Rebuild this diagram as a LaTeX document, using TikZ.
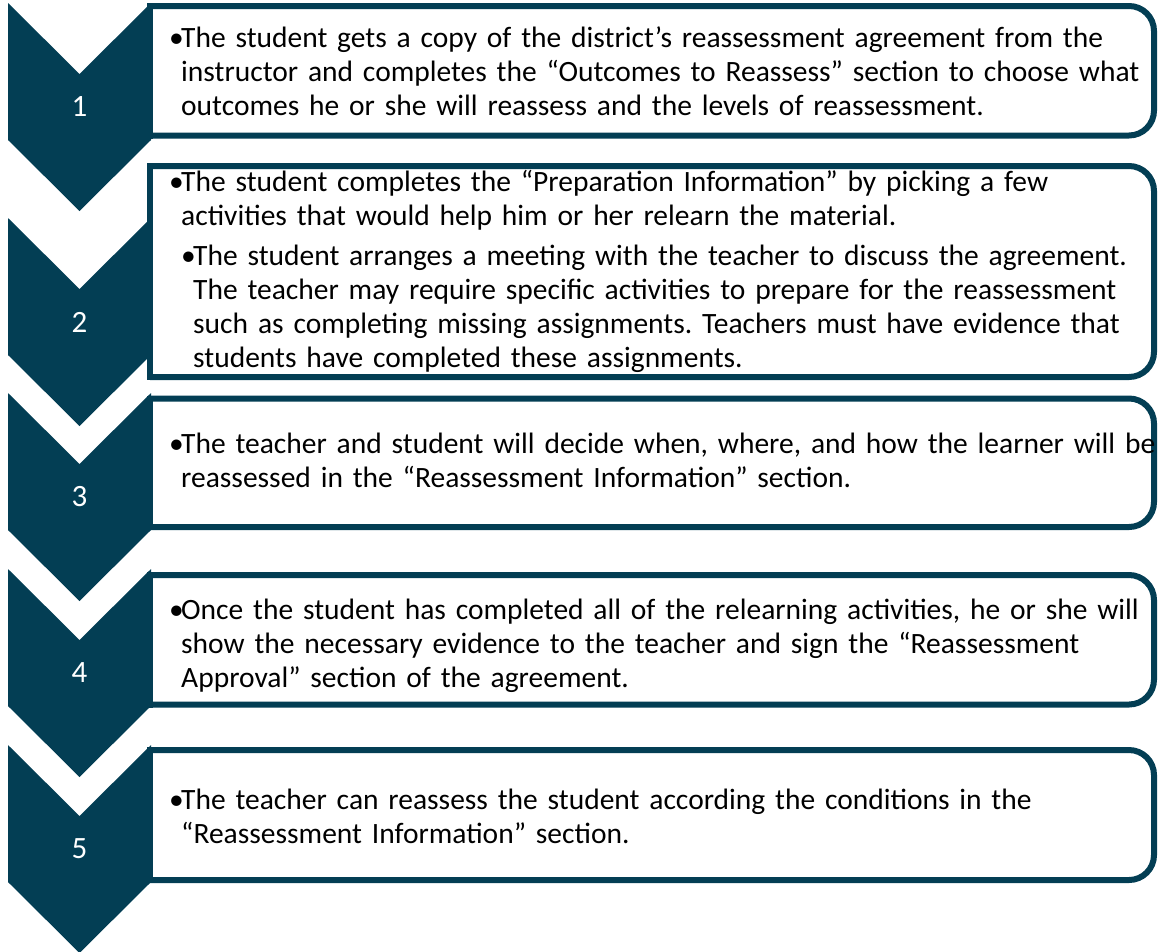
\documentclass[tikz,border=0pt]{standalone}
\usepackage{fontspec}
\setmainfont{Carlito}
\frenchspacing
\definecolor{stepteal}{RGB}{3,62,84}
\newcommand{\bitem}[2][0pt]{\par\leftskip=#1\relax\hangindent=12pt\hangafter=1\noindent\makebox[12pt][l]{•}#2\par}

\begin{document}
\begin{tikzpicture}[x=1pt,y=1pt,
  every node/.style={font=\fontsize{29.5}{34}\selectfont},
  chevron/.style={fill=stepteal},
  stepnum/.style={text=white,font=\fontsize{31}{36}\selectfont},
  boxline/.style={draw=stepteal,line width=6pt},
  boxtext/.style={anchor=west,inner sep=0pt,text width=1000pt,align=left}]
 \useasboundingbox (0,0) rectangle (1158,-951);
 % chevrons down the left side
 \foreach \t [count=\i] in {3,218,393,569,745}{
   \fill[chevron] (8,-\t) -- (79.5,-\t-71) -- (151,-\t) -- (151,-\t-137) -- (79.5,-\t-208) -- (8,-\t-137) -- cycle;
   \node[stepnum] (num\i) at (79.5,-\t-104) {\i};
 }
 % boxes, rounded on the right
 \foreach \t/\b in {6/135.5,166/377,398.5/527,575/704.5,750/880}{
   \fill[white] (150,-\t) rectangle (1154,-\b);
   \draw[boxline,rounded corners=25pt] (150,-\t) -- (1154,-\t) -- (1154,-\b) -- (150,-\b);
   \draw[boxline,line cap=rect] (150,-\t) -- (150,-\b);
 }
 \node[boxtext] (text1) at (169,-65) {\bitem{The student gets a copy of the district’s reassessment agreement from the\newline instructor and completes the “Outcomes to Reassess” section to choose what\newline outcomes he or she will reassess and the levels of reassessment.}};
 \node[boxtext] (text2) at (169,-265.5) {\bitem{The student completes the “Preparation Information” by picking a few\newline activities that would help him or her relearn the material.}\vspace{6pt}%
   \bitem[12pt]{The student arranges a meeting with the teacher to discuss the agreement.\newline The teacher may require specific activities to prepare for the reassessment\newline such as completing missing assignments. Teachers must have evidence that\newline students have completed these assignments.}};
 \node[boxtext] (text3) at (169,-454) {\bitem{The teacher and student will decide when, where, and how the learner will be\newline reassessed in the “Reassessment Information” section.}};
 \node[boxtext] (text4) at (169,-639) {\bitem{Once the student has completed all of the relearning activities, he or she will\newline show the necessary evidence to the teacher and sign the “Reassessment\newline Approval” section of the agreement.}};
 \node[boxtext] (text5) at (169,-809.5) {\bitem{The teacher can reassess the student according the conditions in the\newline “Reassessment Information” section.}};
\end{tikzpicture}
\end{document}
